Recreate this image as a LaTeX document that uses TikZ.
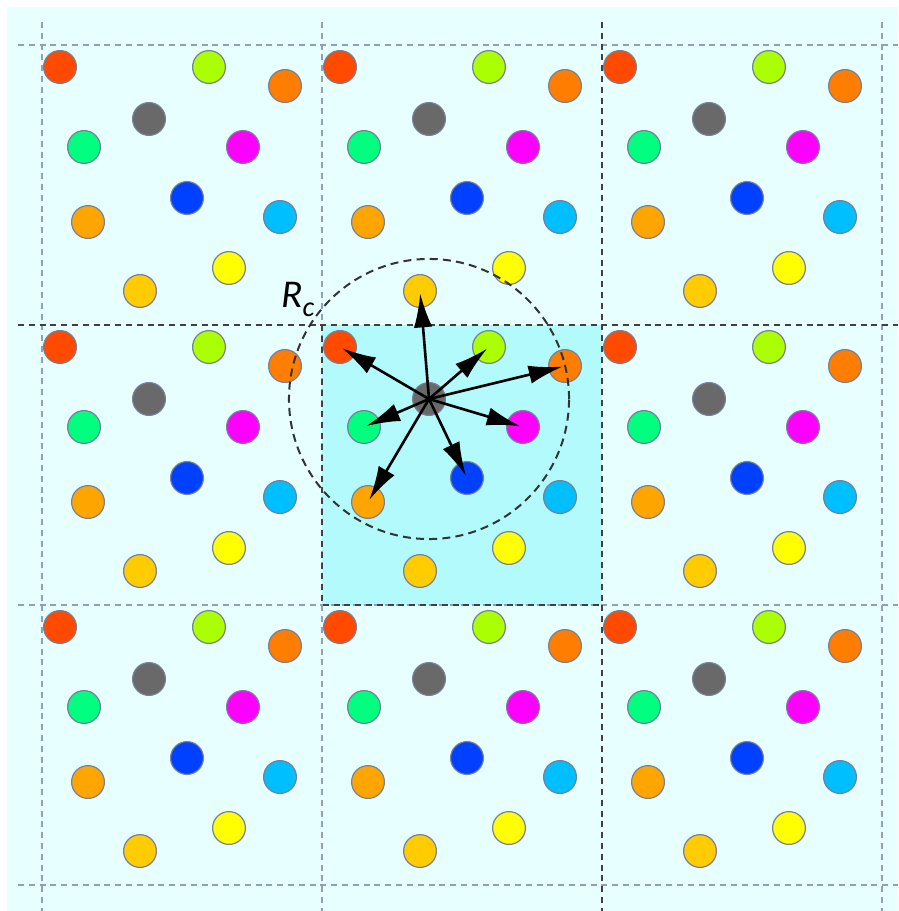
\documentclass[tikz,border=0pt]{standalone}
\usepackage{fontspec}
\newfontfamily\labelfont{Carlito}
\usetikzlibrary{arrows.meta}

\definecolor{bgcyan}{RGB}{232,255,255}
\definecolor{cellcyan}{RGB}{178,250,252}
\definecolor{gridgray}{RGB}{146,158,186}
\definecolor{atomedge}{RGB}{118,128,156}
\definecolor{atomred}{RGB}{255,74,0}
\definecolor{atomlime}{RGB}{170,255,0}
\definecolor{atomorange}{RGB}{255,125,0}
\definecolor{atomgray}{RGB}{105,105,105}
\definecolor{atomgreen}{RGB}{0,255,127}
\definecolor{atommagenta}{RGB}{255,0,255}
\definecolor{atomblue}{RGB}{0,64,255}
\definecolor{atomamber}{RGB}{255,165,0}
\definecolor{atomsky}{RGB}{0,191,255}
\definecolor{atomyellow}{RGB}{255,255,0}
\definecolor{atomgold}{RGB}{255,204,0}

\begin{document}
\begin{tikzpicture}[x=0.025cm, y=-0.025cm,
  gridline/.style={gridgray, line width=0.35mm, dash pattern=on 1.5mm off 1.2mm},
  cellline/.style={black!75, line width=0.35mm, dash pattern=on 1.5mm off 1.2mm},
  atom/.style={circle, draw=atomedge, line width=0.3mm, minimum size=8.2mm, inner sep=0pt},
  cutoff/.style={black!80, line width=0.5mm, dash pattern=on 2mm off 1.3mm},
  force/.style={-{Latex[length=8.5mm,width=4.6mm]}, line width=0.65mm, black,
                shorten >=0.6mm}]

  \useasboundingbox (0,0) rectangle (898,911);

  % Periodic images
  \fill[bgcyan] (7,7) rectangle (898,911);

  % Central cell
  \fill[cellcyan] (322,325) rectangle (602,605);

  % Cell borders
  \foreach \x in {42,322,882} {
    \draw[gridline] (\x,22) -- (\x,911);
  }
  \foreach \y in {45,605,885} {
    \draw[gridline] (18,\y) -- (898,\y);
  }
  \draw[cellline] (602,22) -- (602,911);
  \draw[cellline] (18,325) -- (898,325);
  \draw[cellline] (322,325) -- (322,605) -- (602,605);

  % Atoms, same layout in every cell
  \foreach \i in {0,1,2} {
    \foreach \j in {0,1,2} {
      \foreach \col/\dx/\dy in {red/18/22, lime/167/22, orange/243/41,
                                gray/107/74, green/42/102, magenta/201/102,
                                blue/145/153, amber/46/177, sky/238/172,
                                yellow/187/223, gold/98/246} {
        \node[atom, fill=atom\col] (c\i\j-\col)
          at ({42+280*\i+\dx},{45+280*\j+\dy}) {};
      }
    }
  }

  % Cutoff sphere
  \draw[cutoff] (c11-gray.center) circle (3.5cm);
  \node[font=\labelfont\itshape\fontsize{28}{32}\selectfont, inner sep=0pt,
        anchor=base west] (rc) at (281,308)
    {R\raisebox{-6pt}{\fontsize{20}{23}\selectfont c}};

  % Interactions within R_c
  \foreach \t in {c11-red, c11-lime, c11-orange, c11-magenta,
                  c11-blue, c11-amber, c11-green, c10-gold} {
    \draw[force] (c11-gray.center) -- (\t.center);
  }

\end{tikzpicture}
\end{document}
